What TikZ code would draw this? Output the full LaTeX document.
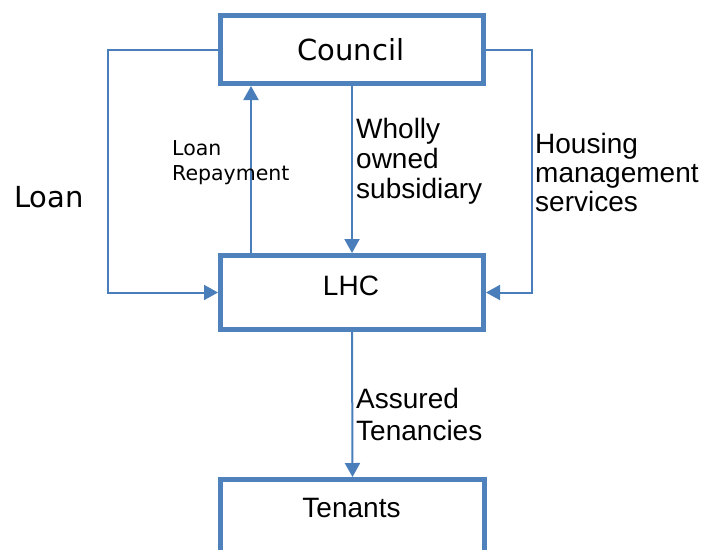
\documentclass[tikz,border=0pt]{standalone}
\usepackage{fontspec}
\setmainfont{Liberation Sans}
\newfontfamily\dvs{DejaVu Sans}
\usetikzlibrary{arrows.meta}
\definecolor{boxblue}{RGB}{79,129,189}
\definecolor{lineblue}{RGB}{74,126,187}
\begin{document}
\begin{tikzpicture}[x=1pt,y=-1pt,
  box/.style={draw=boxblue,line width=5pt,minimum width=263pt,inner sep=0pt},
  conn/.style={draw=lineblue,line width=2pt},
  arr/.style={conn,-{Triangle[length=14pt,width=15pt]}},
  lbl/.style={inner sep=0pt,align=left,anchor=north west},
  big/.style={inner sep=0pt,font=\fontsize{28}{30}\selectfont},
]
\useasboundingbox (0,0) rectangle (703,549);
\clip (0,0) rectangle (703,549);
% boxes
\node[box,minimum height=68pt] (council) at (352,49.5) {};
\node[box,minimum height=74pt] (lhc) at (352,292.5) {};
\node[box,minimum width=264pt,minimum height=90pt] (tenants) at (352.5,524.5) {};
% box texts
\node[inner sep=0pt,anchor=base,font=\dvs\fontsize{29}{32}\selectfont] (councilt) at (351,60) {Council};
\node[big,anchor=base] (lhct) at (351,295) {LHC};
\node[big,anchor=base] (tenantst) at (351.5,517) {Tenants};
% helper coordinates
\coordinate (lx) at (108,0);
\coordinate (rx) at (532,0);
\coordinate (rp) at (251,0);
% connectors
\draw[arr] (council.west) -- (council.west -| lx) -- (lhc.west -| lx) -- (lhc.west);
\draw[arr] (council.east) -- (council.east -| rx) -- (lhc.east -| rx) -- (lhc.east);
\draw[arr] (lhc.north -| rp) -- (council.south -| rp);
\draw[arr] (council.south) -- (lhc.north);
\draw[arr] (lhc.south) -- (tenants.north);
% labels
\node[inner sep=0pt,anchor=base west,font=\dvs\fontsize{29}{32}\selectfont] (loan) at (14,207) {Loan};
\node[lbl,font=\dvs\fontsize{20.5}{25}\selectfont] (repay) at (172,140) {Loan\\Repayment};
\node[lbl,font=\fontsize{28}{30}\selectfont] (wholly) at (356,118) {Wholly\\owned\\subsidiary};
\node[lbl,font=\fontsize{28}{29}\selectfont] (housing) at (535,133) {Housing\\management\\services};
\node[lbl,font=\fontsize{28}{32}\selectfont] (assured) at (356,388) {Assured\\Tenancies};
\end{tikzpicture}
\end{document}
